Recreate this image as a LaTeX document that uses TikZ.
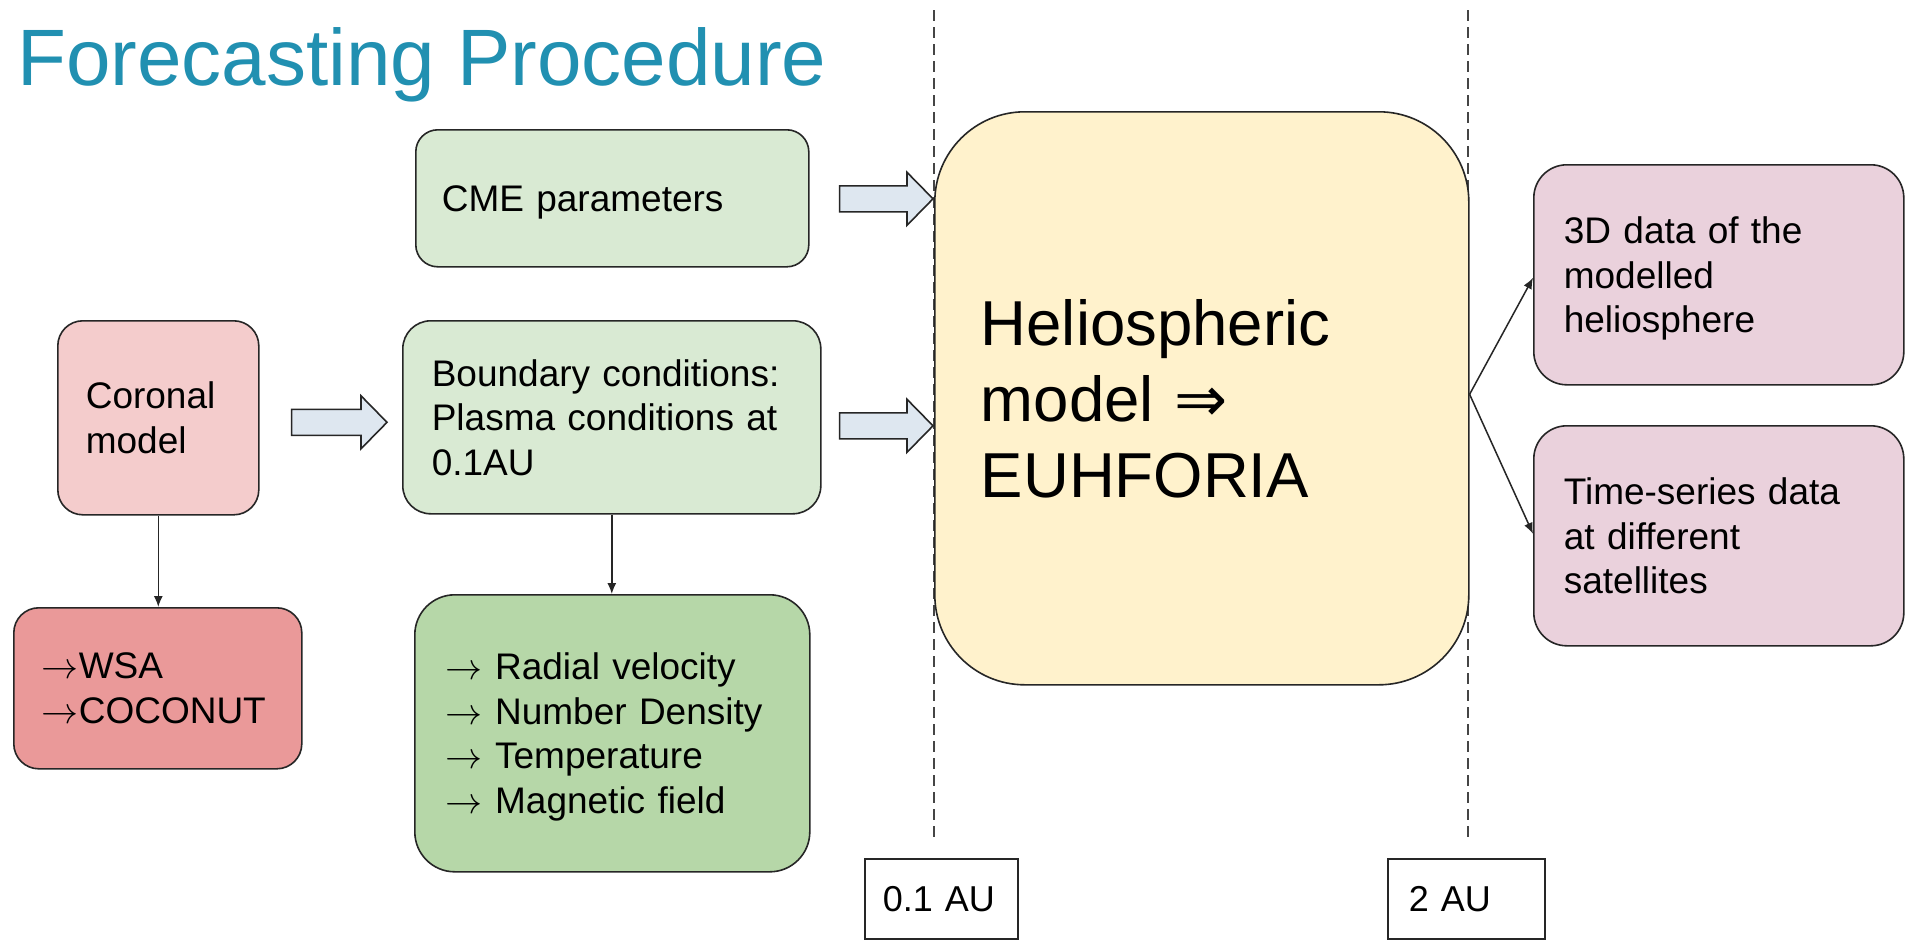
\RequirePackage{fix-cm}
\documentclass[tikz,border=0pt]{standalone}
\usepackage{fontspec}
\setmainfont{Liberation Sans}
\newfontfamily\symfont{DejaVu Sans}
\usetikzlibrary{calc,arrows.meta}

\definecolor{titleblue}{HTML}{2190B1}
\definecolor{linecol}{HTML}{262626}
\definecolor{dashcol}{HTML}{454545}
\definecolor{arrowfill}{HTML}{DEE7F0}
\definecolor{lgreen}{HTML}{D9EAD3}
\definecolor{mgreen}{HTML}{B6D7A8}
\definecolor{lred}{HTML}{F4CCCC}
\definecolor{mred}{HTML}{EA9999}
\definecolor{lyellow}{HTML}{FFF2CC}
\definecolor{lmagenta}{HTML}{EAD1DC}

\newcommand\bodyfont{\fontsize{37}{44.5}\selectfont}
\newcommand\bigfont{\fontsize{63.5}{76}\selectfont}
\newcommand\ra{$\rightarrow$}

\tikzset{
  box/.style={draw=linecol, line width=1.6pt, inner ysep=0pt, anchor=north west,
    align=left, font=\bodyfont, text=black},
  labelbox/.style={box, fill=white, minimum height=80pt, font=\fontsize{36}{43}\selectfont},
  thinarrow/.style={draw=linecol, line width=1.5pt, -{Latex[length=11pt,width=9pt]}},
  boundline/.style={draw=dashcol, line width=1.3pt, dash pattern=on 11pt off 6pt},
  blockarrow/.style={draw=linecol, line width=1.6pt, fill=arrowfill, line join=miter,
    to path={let \p1=(\tikztostart), \p2=(\tikztotarget) in
      (\x1,\y1+13pt) -- (\x2-26pt,\y1+13pt) -- (\x2-26pt,\y1+26.5pt) -- (\x2,\y1)
      -- (\x2-26pt,\y1-26.5pt) -- (\x2-26pt,\y1-13pt) -- (\x1,\y1-13pt) -- cycle}}
}

\begin{document}
\begin{tikzpicture}[x=1pt,y=-1pt]
\fill[white] (0,0) rectangle (1905,940);
\useasboundingbox (0,0) rectangle (1905,940);

% title
\node[anchor=base west, inner sep=0pt, font=\fontsize{80}{96}\selectfont, text=titleblue]
  (title) at (17,85) {Forecasting Procedure};

% radial boundaries of the heliospheric domain
\coordinate (innerb) at (934,10);
\coordinate (outerb) at (1468,10);
\draw[boundline] (innerb) -- ++(0,832);
\draw[boundline] (outerb) -- ++(0,832);

% input side (last lines with descenders are smashed so text centres on the cap line)
\node[box, fill=lgreen, rounded corners=22pt, minimum width=393pt, minimum height=137pt,
  inner xsep=26pt, text width=341pt, text depth=0pt] (cme) at (415,129) {CME parameters};

\node[box, fill=lred, rounded corners=25pt, minimum width=201pt, minimum height=194pt,
  inner xsep=28pt, text width=145pt] (coronal) at (57,320) {Coronal\\model};

\node[box, fill=mred, rounded corners=25pt, minimum width=288pt, minimum height=161pt,
  inner xsep=28pt, text width=232pt] (wsa) at (13,607) {\ra WSA\\\ra COCONUT};

\node[box, fill=lgreen, rounded corners=28pt, minimum width=418pt, minimum height=193pt,
  inner xsep=29pt, text width=360pt] (boundary) at (402,320)
  {Boundary conditions:\\Plasma conditions at\\0.1AU};

\node[box, fill=mgreen, rounded corners=40pt, minimum width=395pt, minimum height=277pt,
  inner xsep=31pt, text width=333pt] (params) at (414,594)
  {\ra{} Radial velocity\\\ra{} Number Density\\\ra{} Temperature\\\smash{\ra{} Magnetic field}};

% heliospheric model
\node[box, fill=lyellow, rounded corners=90pt, minimum width=534pt, minimum height=573pt,
  inner xsep=46pt, text width=442pt, font=\bigfont] (helio) at (934,111)
  {Heliospheric\\model {\symfont ⇒}\\EUHFORIA};

% outputs
\node[box, fill=lmagenta, rounded corners=33pt, minimum width=370pt, minimum height=220pt,
  inner xsep=30pt, text width=310pt] (data3d) at (1533,164)
  {3D data of the\\modelled\\\smash{heliosphere}};

\node[box, fill=lmagenta, rounded corners=33pt, minimum width=370pt, minimum height=220pt,
  inner xsep=30pt, text width=310pt] (series) at (1533,425)
  {Time-series data\\at different\\satellites};

% distance labels
\node[labelbox, minimum width=153pt, inner xsep=18pt, text width=117pt] (au01) at (864,858) {0.1 AU};
\node[labelbox, minimum width=157pt, inner xsep=21pt, text width=115pt] (au2) at (1387,858) {2 AU};

% block arrows
\draw[blockarrow] ($(cme.east)+(30,0.5)$) to ($(cme.east -| helio.west)+(-1,0.5)$);
\draw[blockarrow] ($(coronal.east)+(32,4.5)$) to ($(boundary.west)+(-15,4.5)$);
\draw[blockarrow] ($(boundary.east)+(18,8.5)$) to ($(boundary.east -| helio.west)+(-1,8.5)$);

% thin connectors
\draw[thinarrow] (coronal.south) -- (coronal.south |- wsa.north);
\draw[thinarrow] (boundary.south) -- (boundary.south |- params.north);
\coordinate (split) at ($(helio.east)+(0,-4)$);
\draw[thinarrow] (split) -- ($(data3d.west)+(0,3)$);
\draw[thinarrow] (split) -- ($(series.west)+(0,-2)$);
\end{tikzpicture}
\end{document}
